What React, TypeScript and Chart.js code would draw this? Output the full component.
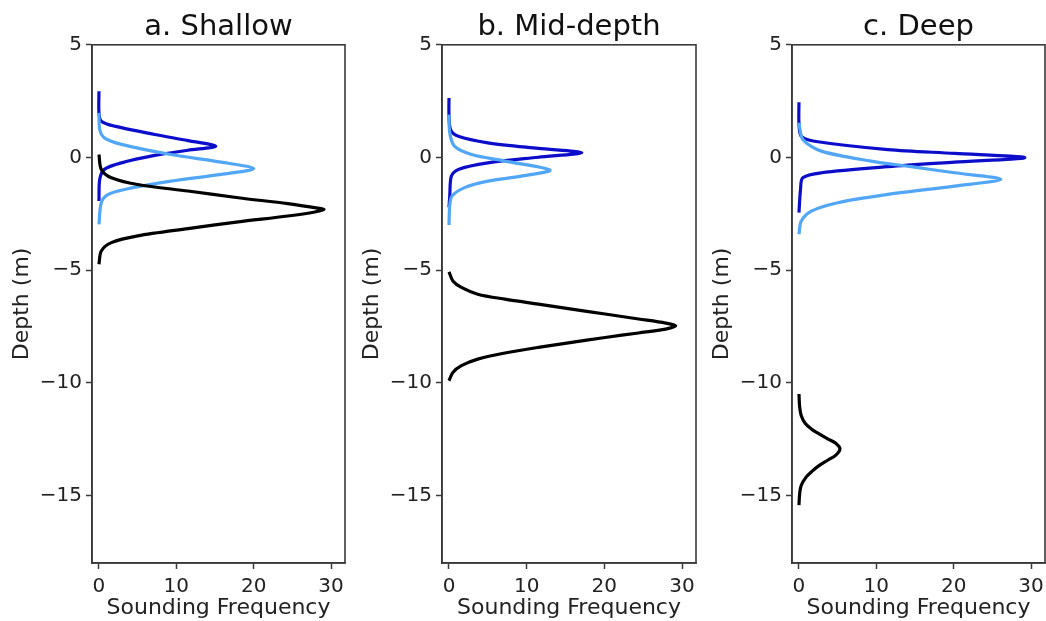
import React, { useEffect, useRef } from 'react';
import { Chart, registerables } from 'chart.js';

Chart.register(...registerables);

// ---------- data ----------
const PANEL_TITLES = ['a. Shallow', 'b. Mid-depth', 'c. Deep'];
const X_TICKS = [0, 10, 20, 30];
const Y_TICKS = [5, 0, -5, -10, -15];
const X_MIN = -0.9;
const X_MAX = 31.8;
const Y_MIN = -18;
const Y_MAX = 5;
const X_LABEL = 'Sounding Frequency';
const Y_LABEL = 'Depth (m)';

// Panel a — Shallow
const A_DARK_DEPTH = [2.94, 1.98, 1.61, 1.39, 1.02, 0.75, 0.5, 0.32, 0.09, -0.24, -0.53, -0.97, -1.93];
const A_DARK_FREQ = [0, 0, 0.3, 2.0, 7.2, 11.5, 15.1, 11.5, 7.2, 2.9, 0.7, 0.1, 0];
const A_LIGHT_DEPTH = [1.98, 1.24, 0.87, 0.58, 0.13, -0.21, -0.5, -0.75, -1.05, -1.39, -1.64, -2.01, -2.97];
const A_LIGHT_FREQ = [0, 0.1, 0.7, 2.9, 9.3, 15.8, 20.0, 15.8, 9.3, 3.7, 1.2, 0.3, 0];
const A_BLACK_DEPTH = [0.13, -0.53, -0.9, -1.2, -1.49, -1.79, -2.05, -2.23, -2.3, -2.42, -2.6, -2.86, -3.16, -3.48, -3.78, -4.15, -4.74];
const A_BLACK_FREQ = [0, 0.3, 1.6, 5.0, 11.5, 18.0, 24.4, 27.9, 29.1, 27.9, 24.4, 18.0, 11.5, 5.0, 1.6, 0.3, 0];

// Panel b — Mid-depth
const B_DARK_DEPTH = [2.64, 1.9, 1.24, 0.94, 0.65, 0.4, 0.21, 0.01, -0.24, -0.53, -0.83, -1.71, -2.22];
const B_DARK_FREQ = [0, 0, 0.2, 1.2, 5.0, 11.5, 17.1, 11.5, 5.0, 1.2, 0.3, 0.1, 0];
const B_LIGHT_DEPTH = [1.9, 1.09, 0.5, 0.13, -0.16, -0.56, -0.83, -1.05, -1.34, -1.71, -2.1, -3.0];
const B_LIGHT_FREQ = [0, 0.1, 0.7, 2.9, 7.2, 13.0, 9.3, 5.0, 2.0, 0.4, 0.1, 0];
const B_BLACK_DEPTH = [-5.08, -5.48, -5.77, -6.07, -6.29, -6.51, -6.73, -6.95, -7.17, -7.35, -7.47, -7.62, -7.79, -7.99, -8.21, -8.43, -8.68, -8.95, -9.24, -9.54, -9.91];
const B_BLACK_FREQ = [0, 0.5, 1.6, 3.7, 7.2, 11.5, 15.8, 20.1, 24.4, 27.9, 29.2, 27.9, 24.4, 20.1, 15.8, 11.5, 7.2, 3.7, 1.6, 0.5, 0];

// Panel c — Deep
const C_DARK_DEPTH = [2.45, 1.54, 0.94, 0.72, 0.35, 0.18, -0.01, -0.21, -0.41, -0.68, -0.9, -1.42, -2.45];
const C_DARK_FREQ = [0, 0, 0.3, 2.0, 11.5, 20.1, 29.2, 20.1, 11.5, 2.9, 0.5, 0.2, 0];
const C_LIGHT_DEPTH = [1.54, 0.8, 0.28, -0.16, -0.41, -0.68, -0.97, -1.27, -1.64, -2.01, -2.38, -2.82, -3.41];
const C_LIGHT_FREQ = [0, 0.5, 2.9, 9.3, 14.5, 20.1, 26.1, 20.1, 11.5, 5.0, 1.6, 0.3, 0];
const C_BLACK_DEPTH = [-10.5, -11.1, -11.46, -11.8, -12.05, -12.25, -12.49, -12.7, -12.93, -13.2, -13.44, -13.7, -13.96, -14.2, -14.55, -14.9, -15.43];
const C_BLACK_FREQ = [0, 0.1, 0.3, 0.8, 1.6, 2.5, 3.7, 4.8, 5.3, 4.8, 3.7, 2.5, 1.6, 0.9, 0.3, 0.1, 0];

// ---------- styling ----------
const DARK_BLUE = '#0c0ccb';
const LIGHT_BLUE = '#52a6f6';
const BLACK = '#000000';
const AXIS_COLOR = '#3a3a3a';
const TEXT_COLOR = '#222222';
const FONT = 'DejaVu Sans';

type Curve = { depth: number[]; freq: number[]; color: string; tension: number };

const PANELS: { title: string; left: number; width: number; padRight: number; curves: Curve[] }[] = [
  {
    title: PANEL_TITLES[0], left: 0, width: 350, padRight: 5,
    curves: [
      { depth: A_BLACK_DEPTH, freq: A_BLACK_FREQ, color: BLACK, tension: 0.3 },
      { depth: A_LIGHT_DEPTH, freq: A_LIGHT_FREQ, color: LIGHT_BLUE, tension: 0.3 },
      { depth: A_DARK_DEPTH, freq: A_DARK_FREQ, color: DARK_BLUE, tension: 0.3 },
    ],
  },
  {
    title: PANEL_TITLES[1], left: 350, width: 350, padRight: 4,
    curves: [
      { depth: B_BLACK_DEPTH, freq: B_BLACK_FREQ, color: BLACK, tension: 0.3 },
      { depth: B_LIGHT_DEPTH, freq: B_LIGHT_FREQ, color: LIGHT_BLUE, tension: 0.3 },
      { depth: B_DARK_DEPTH, freq: B_DARK_FREQ, color: DARK_BLUE, tension: 0.3 },
    ],
  },
  {
    title: PANEL_TITLES[2], left: 700, width: 346, padRight: 1,
    curves: [
      { depth: C_BLACK_DEPTH, freq: C_BLACK_FREQ, color: BLACK, tension: 0.4 },
      { depth: C_LIGHT_DEPTH, freq: C_LIGHT_FREQ, color: LIGHT_BLUE, tension: 0.3 },
      { depth: C_DARK_DEPTH, freq: C_DARK_FREQ, color: DARK_BLUE, tension: 0.3 },
    ],
  },
];

const boxPlugin = {
  id: 'frameBox',
  afterDraw(chart: any) {
    const { ctx, chartArea } = chart;
    ctx.save();
    ctx.strokeStyle = AXIS_COLOR;
    ctx.lineWidth = 1.6;
    ctx.strokeRect(chartArea.left, chartArea.top, chartArea.right - chartArea.left, chartArea.bottom - chartArea.top);
    ctx.restore();
  },
};

const fmt = (v: number) => (v < 0 ? '\u2212' + Math.abs(v) : String(v));

function Panel({ title, left, width, padRight, curves }: { title: string; left: number; width: number; padRight: number; curves: Curve[] }) {
  const ref = useRef<HTMLCanvasElement | null>(null);
  useEffect(() => {
    if (!ref.current) return;
    const chart = new Chart(ref.current, {
      type: 'scatter',
      data: {
        datasets: curves.map((c) => ({
          data: c.depth.map((d, i) => ({ x: c.freq[i], y: d })),
          showLine: true,
          borderColor: c.color,
          backgroundColor: c.color,
          borderWidth: 3.2,
          pointRadius: 0,
          pointHoverRadius: 0,
          tension: c.tension,
          fill: false,
        })),
      },
      options: {
        animation: false,
        responsive: false,
        events: [],
        layout: { padding: { left: 0, right: padRight, top: 0, bottom: 0 } },
        plugins: {
          legend: { display: false },
          tooltip: { enabled: false },
          title: {
            display: true,
            fullSize: false,
            text: title,
            color: '#111111',
            font: { family: FONT, size: 29, weight: 'normal' },
            padding: { top: 10, bottom: 0 },
          },
        },
        scales: {
          x: {
            type: 'linear',
            min: X_MIN,
            max: X_MAX,
            afterBuildTicks: (s: any) => {
              s.ticks = X_TICKS.map((v) => ({ value: v }));
            },
            afterFit: (s: any) => {
              s.height = 58;
              s.paddingLeft = 0;
              s.paddingRight = 0;
            },
            grid: { display: true, drawOnChartArea: false, drawTicks: true, tickLength: 6, tickWidth: 1.5, tickColor: AXIS_COLOR },
            border: { display: true, color: AXIS_COLOR, width: 1.6 },
            ticks: {
              color: TEXT_COLOR,
              font: { family: FONT, size: 20 },
              padding: 6,
              maxRotation: 0,
              autoSkip: false,
              callback: (v: any) => fmt(Number(v)),
            },
            title: {
              display: true,
              text: X_LABEL,
              color: TEXT_COLOR,
              font: { family: FONT, size: 22 },
              padding: { top: 0, bottom: 0 },
            },
          },
          y: {
            type: 'linear',
            min: Y_MIN,
            max: Y_MAX,
            afterBuildTicks: (s: any) => {
              s.ticks = Y_TICKS.map((v) => ({ value: v }));
            },
            afterFit: (s: any) => {
              s.width = 92;
              s.paddingTop = 0;
              s.paddingBottom = 0;
            },
            grid: { display: true, drawOnChartArea: false, drawTicks: true, tickLength: 6, tickWidth: 1.5, tickColor: AXIS_COLOR },
            border: { display: true, color: AXIS_COLOR, width: 1.6 },
            ticks: {
              color: TEXT_COLOR,
              font: { family: FONT, size: 20 },
              padding: 4,
              autoSkip: false,
              callback: (v: any) => fmt(Number(v)),
            },
            title: {
              display: true,
              text: Y_LABEL,
              color: TEXT_COLOR,
              font: { family: FONT, size: 22 },
              padding: { top: 9, bottom: 0 },
            },
          },
        },
      } as any,
      plugins: [boxPlugin],
    });
    return () => chart.destroy();
  }, [title, curves, padRight]);
  return (
    <canvas
      ref={ref}
      width={width}
      height={621}
      style={{ position: 'absolute', left, top: 0, width, height: 621, display: 'block' }}
    />
  );
}

export default function App() {
  useEffect(() => {
    document.body.style.margin = '0';
  }, []);
  return (
    <div style={{ position: 'absolute', left: 0, top: 0, width: 1046, height: 621, background: '#ffffff', overflow: 'hidden' }}>
      {PANELS.map((p) => (
        <Panel key={p.title} {...p} />
      ))}
    </div>
  );
}
